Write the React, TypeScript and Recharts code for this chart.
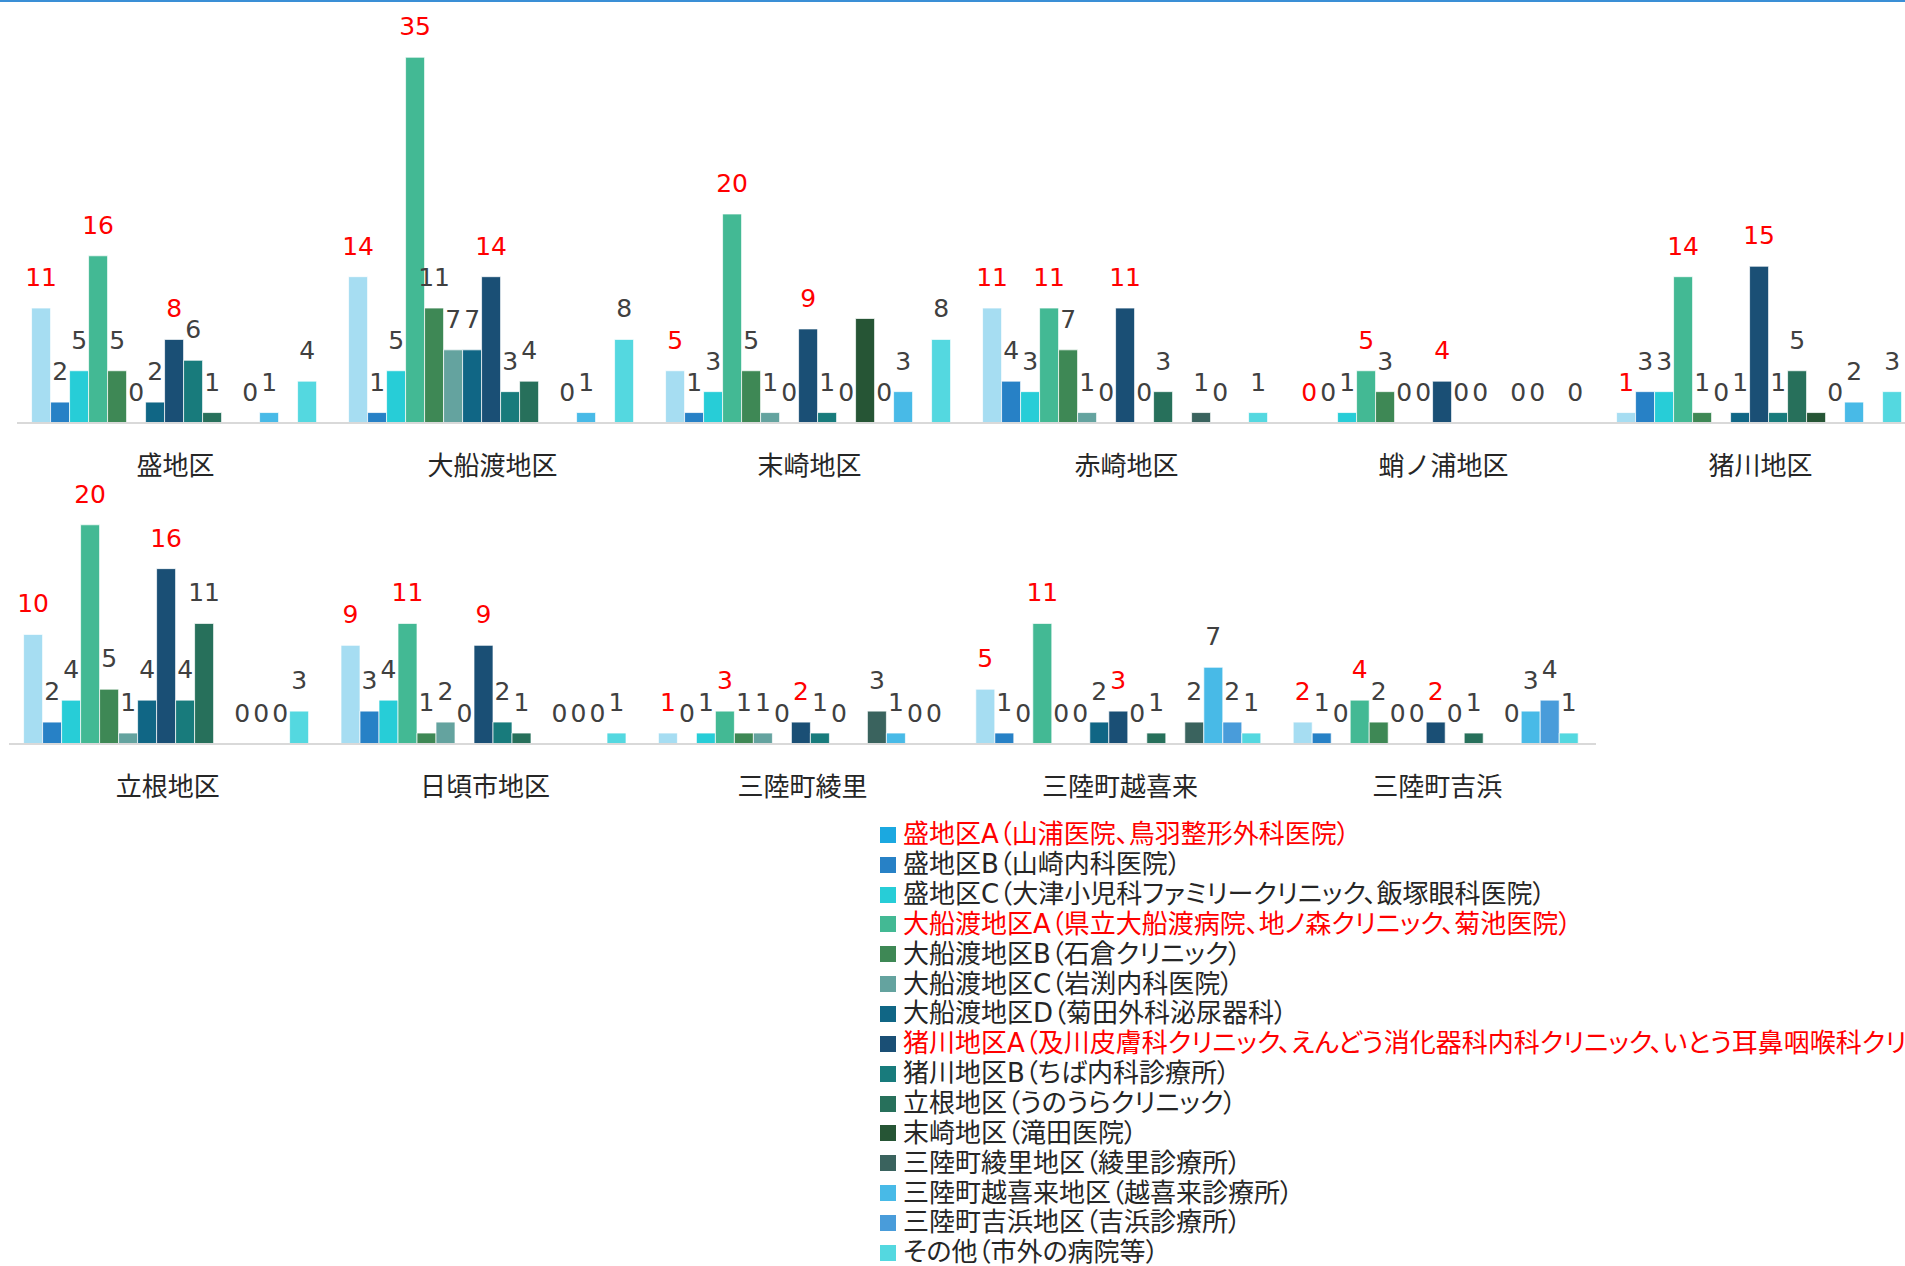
import React from "react";
import { BarChart, Bar, XAxis, YAxis } from "recharts";

const seriesNames = [
  "盛地区A（山浦医院、鳥羽整形外科医院）",
  "盛地区B（山崎内科医院）",
  "盛地区C（大津小児科ファミリークリニック、飯塚眼科医院）",
  "大船渡地区A（県立大船渡病院、地ノ森クリニック、菊池医院）",
  "大船渡地区B（石倉クリニック）",
  "大船渡地区C（岩渕内科医院）",
  "大船渡地区D（菊田外科泌尿器科）",
  "猪川地区A（及川皮膚科クリニック、えんどう消化器科内科クリニック、いとう耳鼻咽喉科クリニック）",
  "猪川地区B（ちば内科診療所）",
  "立根地区（うのうらクリニック）",
  "末崎地区（滝田医院）",
  "三陸町綾里地区（綾里診療所）",
  "三陸町越喜来地区（越喜来診療所）",
  "三陸町吉浜地区（吉浜診療所）",
  "その他（市外の病院等）",
];

const barColors = [
  "#a6ddf2", "#2781c6", "#27cdd7", "#43b994", "#3e8855",
  "#64a39f", "#106685", "#1a4f75", "#187b7c", "#27705b",
  "#265535", "#3a635e", "#48bae7", "#499cda", "#54d8e0",
];
const legendColors = [
  "#1ba8e0", "#2781c6", "#27cdd7", "#43b994", "#3e8855",
  "#64a39f", "#106685", "#1a4f75", "#187b7c", "#27705b",
  "#265535", "#3a635e", "#48bae7", "#499cda", "#54d8e0",
];
// series whose labels / legend text are red
const redSeries = [0, 3, 7];
// series whose data labels were removed
const hiddenLabelSeries = [10];

// top row
const topCategories = ["盛地区", "大船渡地区", "末崎地区", "赤崎地区", "蛸ノ浦地区", "猪川地区"];
const sakari = [11, 2, 5, 16, 5, 0, 2, 8, 6, 1, null, 0, 1, null, 4];
const ofunato = [14, 1, 5, 35, 11, 7, 7, 14, 3, 4, null, 0, 1, null, 8];
const massaki = [5, 1, 3, 20, 5, 1, 0, 9, 1, 0, 10, 0, 3, null, 8];
const akasaki = [11, 4, 3, 11, 7, 1, 0, 11, 0, 3, null, 1, 0, null, 1];
const takonoura = [0, 0, 1, 5, 3, 0, 0, 4, 0, 0, null, 0, 0, null, 0];
const ikawa = [1, 3, 3, 14, 1, 0, 1, 15, 1, 5, 1, 0, 2, null, 3];

// bottom row
const bottomCategories = ["立根地区", "日頃市地区", "三陸町綾里", "三陸町越喜来", "三陸町吉浜"];
const sasaki = [10, 2, 4, 20, 5, 1, 4, 16, 4, 11, null, 0, 0, 0, 3];
const hikoichi = [9, 3, 4, 11, 1, 2, 0, 9, 2, 1, null, 0, 0, 0, 1];
const ryori = [1, 0, 1, 3, 1, 1, 0, 2, 1, 0, null, 3, 1, 0, 0];
const okirai = [5, 1, 0, 11, 0, 0, 2, 3, 0, 1, null, 2, 7, 2, 1];
const yoshihama = [2, 1, 0, 4, 2, 0, 0, 2, 0, 1, null, 0, 3, 4, 1];

const FONT = "'Noto Sans CJK JP', 'Noto Sans', sans-serif";
const NUM_FONT = "'DejaVu Sans', 'Noto Sans CJK JP', sans-serif";

const toRows = (cats: string[], groups: (number | null)[][]) =>
  cats.map((name, ci) => {
    const row: any = { name };
    groups[ci].forEach((v, si) => {
      row[`s${si}`] = v;
    });
    return row;
  });

const topData = toRows(topCategories, [sakari, ofunato, massaki, akasaki, takonoura, ikawa]);
const bottomData = toRows(bottomCategories, [sasaki, hikoichi, ryori, okirai, yoshihama]);

const makeLabel = (si: number) => (props: any) => {
  const { x, y, width, value } = props;
  if (value == null || hiddenLabelSeries.includes(si)) return null;
  return (
    <text
      x={x + width / 2}
      y={y - 22}
      textAnchor="middle"
      fontSize={25}
      fontFamily={NUM_FONT}
      fill={redSeries.includes(si) ? "#ff0000" : "#404040"}
    >
      {Math.round(value)}
    </text>
  );
};

// zero values still get a (hair-thin) rect so that their "0" label is drawn
const zeroPoint = (value: any) => (value === 0 ? 0.01 : 0);

const GroupChart: React.FC<{
  data: any[];
  width: number;
  height: number;
  margin: { top: number; right: number; left: number; bottom: number };
  axisHeight: number;
  yMax: number;
}> = ({ data, width, height, margin, axisHeight, yMax }) => (
  <BarChart
    width={width}
    height={height}
    data={data}
    margin={margin}
    barCategoryGap="4.6%"
    barGap={0}
  >
    <XAxis
      dataKey="name"
      height={axisHeight}
      tickLine={false}
      tickSize={0}
      tickMargin={34}
      axisLine={{ stroke: "#d9d9d9", strokeWidth: 2 }}
      tick={{ fontSize: 26, fill: "#262626", fontFamily: FONT }}
      interval={0}
    />
    <YAxis hide domain={[0, yMax]} />
    {seriesNames.map((n, si) => (
      <Bar
        key={n}
        dataKey={`s${si}`}
        name={n}
        fill={barColors[si]}
        stroke="rgba(255,255,255,0.7)"
        strokeWidth={1}
        minPointSize={zeroPoint}
        isAnimationActive={false}
        label={makeLabel(si)}
      />
    ))}
  </BarChart>
);

export default function App() {
  return (
    <div
      style={{
        position: "fixed",
        left: 0,
        top: 0,
        width: 1905,
        height: 1266,
        overflow: "hidden",
        background: "#fff",
        fontFamily: FONT,
      }}
    >
      {/* blue frame edge at top */}
      <div style={{ position: "absolute", left: 0, top: 0, width: 1905, height: 2, background: "#3a8fd6" }} />

      <div style={{ position: "absolute", left: 0, top: 0 }}>
        <GroupChart
          data={topData}
          width={1930}
          height={500}
          margin={{ top: 5, right: 11, left: 17, bottom: 0 }}
          axisHeight={77}
          yMax={40}
        />
      </div>

      <div style={{ position: "absolute", left: 0, top: 460 }}>
        <GroupChart
          data={bottomData}
          width={1610}
          height={360}
          margin={{ top: 10, right: 14, left: 9, bottom: 0 }}
          axisHeight={76}
          yMax={25}
        />
      </div>

      {/* legend */}
      <div style={{ position: "absolute", left: 880, top: 820 }}>
        {seriesNames.map((n, si) => (
          <div
            key={n}
            style={{ display: "flex", alignItems: "center", height: 29.85, whiteSpace: "nowrap" }}
          >
            <span
              style={{ width: 16, height: 16, background: legendColors[si], marginRight: 7, flexShrink: 0 }}
            />
            <span
              style={{
                fontSize: 26,
                lineHeight: "29px",
                fontFamily: NUM_FONT,
                fontFeatureSettings: '"palt"',
                color: redSeries.includes(si) ? "#ff0000" : "#262626",
              }}
            >
              {n}
            </span>
          </div>
        ))}
      </div>
    </div>
  );
}
